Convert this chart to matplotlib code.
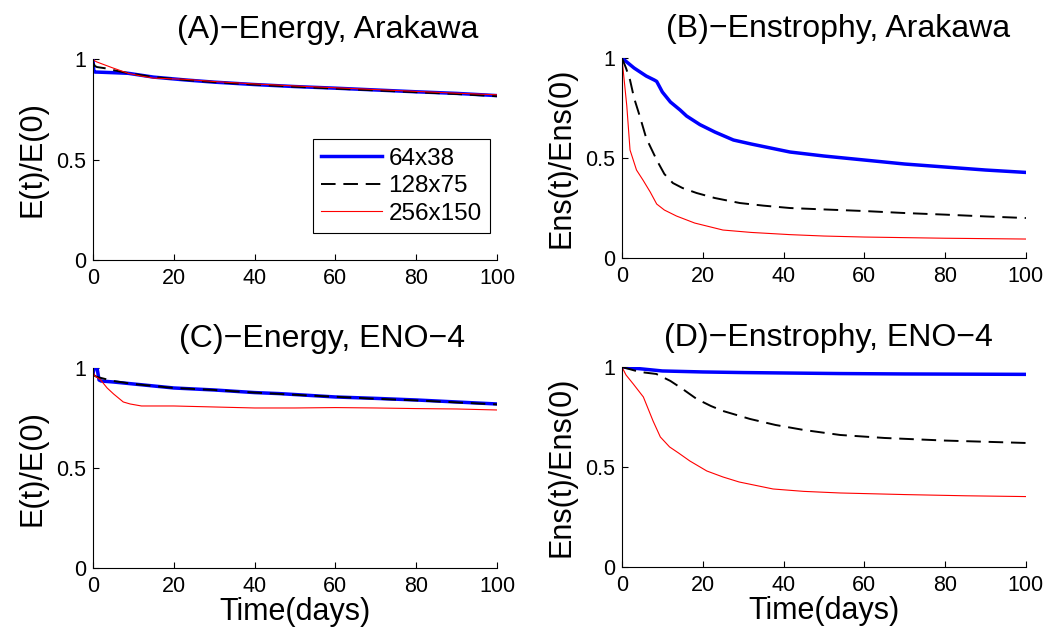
import numpy as np
import matplotlib.pyplot as plt

plt.rcParams['font.family'] = ['Liberation Sans', 'DejaVu Sans']

# time axis samples (days) and values
labels = ['64x38', '128x75', '256x150']

# (A) Energy, Arakawa
tA_blue = [0, 0.2, 0.5, 1, 5, 8.7, 15, 22.8, 30, 40, 50, 60, 70, 80, 90, 100]
A_blue = [1.0, 0.94, 0.935, 0.935, 0.932, 0.929, 0.91, 0.896, 0.885, 0.873, 0.863, 0.855, 0.846, 0.837, 0.829, 0.818]
tA_black = [0, 0.5, 1, 3, 5, 8.7, 15, 22.8, 30, 40, 50, 60, 70, 80, 90, 100]
A_black = [0.98, 0.965, 0.96, 0.954, 0.945, 0.93, 0.91, 0.896, 0.885, 0.873, 0.862, 0.853, 0.844, 0.835, 0.826, 0.815]
tA_red = [0, 0.5, 1, 3, 5, 8.7, 12, 15, 22.8, 30, 40, 50, 60, 70, 80, 90, 100]
A_red = [1.0, 0.99, 0.985, 0.97, 0.955, 0.929, 0.915, 0.905, 0.899, 0.888, 0.876, 0.866, 0.857, 0.848, 0.839, 0.83, 0.822]

# (B) Enstrophy, Arakawa
tB_blue = [0, 3, 6, 8, 8.6, 10, 12, 14.4, 16, 19.3, 23, 27.6, 32, 41.6, 50, 60, 70, 80, 90, 100]
B_blue = [1.0, 0.95, 0.91, 0.89, 0.883, 0.83, 0.78, 0.74, 0.71, 0.667, 0.63, 0.59, 0.57, 0.53, 0.51, 0.49, 0.47, 0.455, 0.44, 0.428]
tB_black = [0, 1, 2, 3, 4.4, 6, 8.6, 10.5, 12.6, 15, 18.5, 23, 29.2, 35, 41.6, 50, 60, 70, 80, 90, 100]
B_black = [1.0, 0.95, 0.89, 0.8, 0.71, 0.6, 0.49, 0.42, 0.375, 0.35, 0.325, 0.3, 0.275, 0.262, 0.25, 0.243, 0.235, 0.225, 0.217, 0.208, 0.2]
tB_red = [0, 0.5, 1.2, 2, 3.6, 5.2, 7, 8.6, 10.5, 13.5, 18, 25, 32, 41.6, 50, 60, 70, 80, 90, 100]
B_red = [1.0, 0.9, 0.76, 0.54, 0.44, 0.39, 0.33, 0.27, 0.24, 0.21, 0.175, 0.14, 0.128, 0.117, 0.11, 0.105, 0.102, 0.099, 0.097, 0.095]

# (C) Energy, ENO-4
tC_blue = [0, 0.3, 1, 1.5, 2, 5, 10, 20, 30, 40, 46, 60, 70, 80, 90, 100]
C_blue = [0.97, 1.0, 1.0, 0.94, 0.935, 0.93, 0.92, 0.9, 0.89, 0.877, 0.872, 0.855, 0.848, 0.84, 0.83, 0.82]
tC_black = [0, 0.5, 1, 2, 5, 10, 20, 30, 40, 50, 60, 70, 80, 90, 100]
C_black = [0.97, 0.96, 0.955, 0.95, 0.935, 0.92, 0.9, 0.89, 0.877, 0.866, 0.856, 0.846, 0.838, 0.828, 0.818]
tC_red = [0, 0.2, 0.5, 1.9, 3.5, 5.1, 7.5, 9.2, 12, 20, 30, 40, 50, 60, 70, 80, 90, 100]
C_red = [1.0, 0.97, 0.96, 0.94, 0.9, 0.87, 0.83, 0.82, 0.81, 0.81, 0.805, 0.8, 0.8, 0.802, 0.8, 0.797, 0.795, 0.79]

# (D) Enstrophy, ENO-4
tD_blue = [0, 10, 20, 30, 54, 70, 100]
D_blue = [1.0, 0.98, 0.975, 0.972, 0.967, 0.965, 0.963]
tD_black = [0, 4.4, 8.5, 12, 15, 18.5, 22, 25, 31.7, 38, 45, 54, 65, 80, 100]
D_black = [1.0, 0.975, 0.965, 0.93, 0.89, 0.84, 0.805, 0.78, 0.74, 0.71, 0.685, 0.66, 0.645, 0.632, 0.62]
tD_red = [0, 1, 2.8, 5.3, 7.7, 9.5, 11.8, 14, 16.8, 21, 25, 29, 37.4, 45, 54, 70, 85, 100]
D_red = [1.0, 0.96, 0.915, 0.85, 0.73, 0.65, 0.6, 0.57, 0.53, 0.48, 0.45, 0.425, 0.39, 0.378, 0.37, 0.362, 0.356, 0.352]

panels = [
    ('(A)\u2212Energy, Arakawa', 'E(t)/E(0)', [(tA_blue, A_blue), (tA_black, A_black), (tA_red, A_red)]),
    ('(B)\u2212Enstrophy, Arakawa', 'Ens(t)/Ens(0)', [(tB_blue, B_blue), (tB_black, B_black), (tB_red, B_red)]),
    ('(C)\u2212Energy, ENO\u22124', 'E(t)/E(0)', [(tC_blue, C_blue), (tC_black, C_black), (tC_red, C_red)]),
    ('(D)\u2212Enstrophy, ENO\u22124', 'Ens(t)/Ens(0)', [(tD_blue, D_blue), (tD_black, D_black), (tD_red, D_red)]),
]

styles = [dict(color='#0000ff', lw=2.5, ls='-'),
          dict(color='black', lw=1.4, ls=(0, (7.5, 4))),
          dict(color='#ff0000', lw=0.8, ls='-')]

positions = [[0.0889, 0.5899, 0.3862, 0.317],
             [0.5946, 0.5930, 0.3862, 0.3155],
             [0.0889, 0.1041, 0.3862, 0.3155],
             [0.5946, 0.1057, 0.3862, 0.3155]]
# title centres (axes fraction), titles sit a bit right of centre
title_x = [0.58, 0.535, 0.567, 0.51]

fig = plt.figure(figsize=(10.46, 6.34), dpi=100)

for i, (title, ylab, series) in enumerate(panels):
    ax = fig.add_axes(positions[i])
    for (t, v), st, lab in zip(series, styles, labels):
        ax.plot(t, v, label=lab, **st)
    ax.set_xlim(0, 100)
    ax.set_ylim(0, 1)
    ax.set_xticks([0, 20, 40, 60, 80, 100])
    ax.set_yticks([0, 0.5, 1])
    ax.set_yticklabels(['0', '0.5', '1'])
    ax.spines['top'].set_visible(False)
    ax.spines['right'].set_visible(False)
    ax.tick_params(direction='in', length=4, labelsize=15.5)
    ax.tick_params(axis='x', pad=6)
    ax.tick_params(axis='y', pad=5)
    ax.set_title(title, fontsize=23, pad=15, x=title_x[i])
    ax.set_ylabel(ylab, fontsize=22, labelpad=6)
    if i >= 2:
        ax.set_xlabel('Time(days)', fontsize=22, labelpad=0)
    if i == 0:
        leg = ax.legend(loc='lower right', bbox_to_anchor=(0.983, 0.134), borderaxespad=0,
                        fontsize=17.5, fancybox=False, framealpha=1, edgecolor='black',
                        handlelength=2.5, handletextpad=0.25, borderpad=0.35,
                        labelspacing=0.22)
        leg.get_frame().set_linewidth(0.8)

plt.savefig('out.png', dpi=100)
